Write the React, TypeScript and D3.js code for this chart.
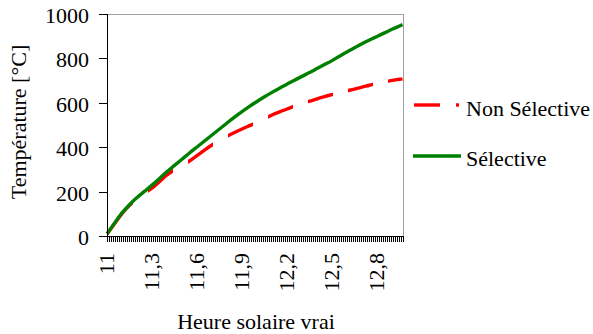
import React from "react";
import * as d3 from "d3";

const hours = [
  11.0, 11.05, 11.1, 11.15, 11.2, 11.25, 11.3, 11.35, 11.4, 11.45, 11.5, 11.55, 11.6, 11.65,
  11.7, 11.75, 11.8, 11.85, 11.9, 11.95, 12.0, 12.05, 12.1, 12.15, 12.2, 12.25, 12.3, 12.35,
  12.4, 12.45, 12.5, 12.55, 12.6, 12.65, 12.7, 12.75, 12.8, 12.85, 12.9, 12.95, 12.97,
];
const selective = [
  10, 58, 104, 141, 173, 201, 229, 259, 290, 318, 346, 374, 401, 428,
  455, 482, 509, 535, 560, 584, 606, 627, 647, 666, 684, 702, 719, 736,
  754, 772, 790, 810, 829, 848, 866, 883, 899, 915, 931, 946, 952,
];
const nonSelective = [
  8, 55, 101, 138, 168, 193, 216, 245, 275, 298, 318, 338, 362, 387,
  410, 430, 449, 466, 482, 497, 512, 529, 545, 559, 572, 585, 597, 607,
  618, 628, 637, 646, 654, 662, 671, 679, 688, 695, 701, 706, 708,
];
const xTickValues = [11, 11.3, 11.6, 11.9, 12.2, 12.5, 12.8];
const xTickLabels = ["11", "11,3", "11,6", "11,9", "12,2", "12,5", "12,8"];
const yTickValues = [0, 200, 400, 600, 800, 1000];
const seriesNames = ["Non Sélective", "Sélective"];

const FONT = "'Liberation Serif', 'Times New Roman', serif";

export default function App() {
  const left = 107, right = 403, top = 14, bottom = 236;
  const x = d3.scaleLinear().domain([11, 12.9733]).range([left, right]);
  const y = d3.scaleLinear().domain([0, 1000]).range([bottom, top]);

  const line = d3
    .line<number>()
    .x((_, i) => x(hours[i]))
    .y((d) => y(d))
    .curve(d3.curveMonotoneX);

  const minorTicks = d3.range(0, 149).map((k) => 11 + k / 75);

  return (
    <svg
      width={593}
      height={334}
      style={{ position: "absolute", left: 0, top: 0, display: "block", background: "#fff" }}
      fontFamily={FONT}
    >
      <defs>
        <pattern id="dashPat" patternUnits="userSpaceOnUse" x={x(11) + 1} y={0} width={40} height={334}>
          <rect x={0} y={0} width={25} height={334} fill="#fff" />
        </pattern>
        <mask id="dashMask" maskUnits="userSpaceOnUse" x={0} y={0} width={593} height={334}>
          <rect x={0} y={0} width={593} height={334} fill="url(#dashPat)" />
        </mask>
      </defs>

      {/* frame */}
      <line x1={left} x2={right} y1={top + 0.5} y2={top + 0.5} stroke="#a0a0a0" strokeWidth={1} />
      <line x1={right + 0.5} x2={right + 0.5} y1={top} y2={bottom} stroke="#a0a0a0" strokeWidth={1} />

      {/* data */}
      <path d={line(nonSelective) || ""} fill="none" stroke="#ff0000" strokeWidth={3.4} mask="url(#dashMask)" />
      <path d={line(selective) || ""} fill="none" stroke="#008000" strokeWidth={3.4} />

      {/* axes */}
      <line x1={left + 0.5} x2={left + 0.5} y1={top} y2={bottom} stroke="#000" strokeWidth={1} />
      <line x1={left} x2={right + 1} y1={bottom + 0.5} y2={bottom + 0.5} stroke="#000" strokeWidth={1} />
      {yTickValues.map((v) => (
        <g key={v}>
          <line x1={left - 8} x2={left} y1={Math.round(y(v)) + 0.5} y2={Math.round(y(v)) + 0.5} stroke="#000" />
          <text x={89} y={y(v) + 9} textAnchor="end" fontSize={22} fill="#000">
            {v}
          </text>
        </g>
      ))}
      {minorTicks.map((v, i) => (
        <line
          key={i}
          x1={Math.round(x(v)) + 0.5}
          x2={Math.round(x(v)) + 0.5}
          y1={bottom}
          y2={bottom + 6}
          stroke="#000"
          strokeWidth={1}
        />
      ))}
      {xTickValues.map((v, i) => (
        <text
          key={v}
          transform={`translate(${x(v) + 7},${253}) rotate(-90)`}
          textAnchor="end"
          fontSize={22}
          fill="#000"
        >
          {xTickLabels[i]}
        </text>
      ))}

      {/* axis titles */}
      <text x={256} y={329} textAnchor="middle" fontSize={22} fill="#000">
        Heure solaire vrai
      </text>
      <text transform={`translate(26,${122}) rotate(-90)`} textAnchor="middle" fontSize={22} fill="#000">
        Température [°C]
      </text>

      {/* legend */}
      <g>
        <line x1={414} x2={440} y1={105} y2={105} stroke="#ff0000" strokeWidth={3.4} />
        <line x1={456} x2={459} y1={105} y2={105} stroke="#ff0000" strokeWidth={3.4} />
        <text x={466} y={116} fontSize={22} fill="#000">
          {seriesNames[0]}
        </text>
        <line x1={413} x2={461} y1={156} y2={156} stroke="#008000" strokeWidth={3.4} />
        <text x={466} y={166} fontSize={22} fill="#000">
          {seriesNames[1]}
        </text>
      </g>
    </svg>
  );
}
